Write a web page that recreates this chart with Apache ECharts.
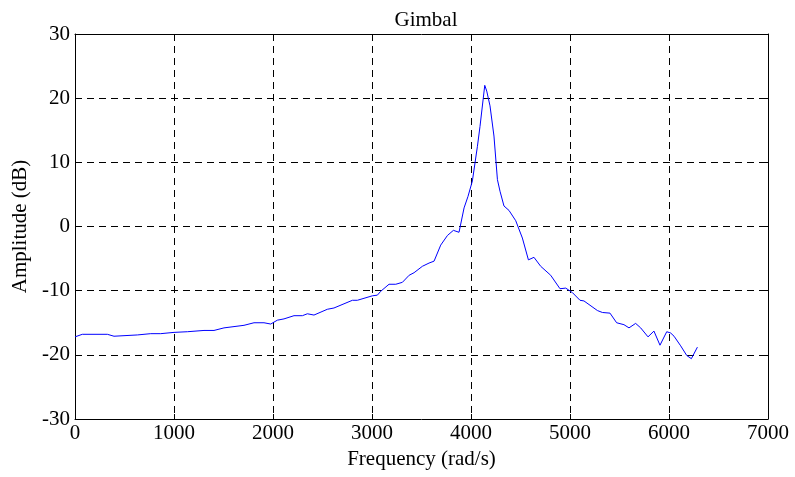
<!DOCTYPE html>
<html>
<head>
<meta charset="utf-8">
<script src="https://cdn.jsdelivr.net/npm/echarts@6/dist/echarts.min.js"></script>
<style>
  html, body { margin: 0; padding: 0; background: #fff; }
  #chart { width: 795px; height: 477px; }
</style>
</head>
<body>
<div id="chart"></div>
<script>
// Gimbal frequency response: frequency (rad/s) and amplitude (dB)
const frequency = [
  0, 74, 327, 394, 630, 765, 866, 1000, 1135, 1303, 1404, 1505, 1707, 1808, 1909, 1977,
  2044, 2111, 2212, 2297, 2347, 2414, 2549, 2616, 2802, 2852, 3004, 3054, 3088, 3172,
  3240, 3307, 3375, 3425, 3509, 3576, 3627, 3694, 3762, 3822, 3879, 3930, 3970, 4014,
  4065, 4091, 4139, 4159, 4192, 4232, 4267, 4293, 4333, 4384, 4452, 4519, 4580, 4636,
  4704, 4805, 4899, 4957, 5024, 5101, 5141, 5277, 5327, 5404, 5471, 5545, 5596, 5663,
  5714, 5788, 5848, 5909, 5977, 6017, 6051, 6118, 6179, 6226, 6287
];
const amplitude = [
  -17.2, -16.8, -16.8, -17.1, -16.9, -16.7, -16.7, -16.5, -16.4, -16.2, -16.2, -15.8, -15.4, -15.0, -15.0, -15.2,
  -14.6, -14.4, -13.9, -13.9, -13.6, -13.8, -12.9, -12.7, -11.5, -11.5, -10.8, -10.7, -10.1, -9.0,
  -9.0, -8.7, -7.6, -7.2, -6.2, -5.7, -5.4, -2.9, -1.4, -0.6, -0.9, 2.9, 4.7, 7.1,
  12.5, 15.6, 22.0, 21.1, 18.8, 14.1, 7.3, 5.5, 3.2, 2.5, 0.9, -1.8, -5.2, -4.8,
  -6.2, -7.6, -9.7, -9.6, -10.3, -11.5, -11.6, -13.1, -13.4, -13.5, -15.0, -15.3, -15.8, -15.1,
  -15.8, -17.2, -16.3, -18.5, -16.4, -16.6, -17.1, -18.6, -20.1, -20.6, -18.8
];
const xTicks = [0, 1000, 2000, 3000, 4000, 5000, 6000, 7000];
const yTicks = [-30, -20, -10, 0, 10, 20, 30];

const font = '"Liberation Serif", "Times New Roman", serif';
const fontSize = 21;
const gridLine = { show: true, lineStyle: { color: '#000', type: [7, 5], width: 1 } };
const boxLine = { show: true, onZero: false, lineStyle: { color: '#000', width: 1 } };
const tick = { show: true, inside: true, length: 5, lineStyle: { color: '#000' } };
const plain = v => String(v);

const chart = echarts.init(document.getElementById('chart'), null, { renderer: 'canvas' });
chart.setOption({
  animation: false,
  backgroundColor: '#fff',
  title: {
    text: 'Gimbal',
    left: 421, top: 5, textAlign: 'center',
    textStyle: { fontFamily: font, fontSize: fontSize, fontWeight: 'normal', color: '#000' }
  },
  grid: { left: 75, right: 27, top: 34, bottom: 58, containLabel: false },
  xAxis: [
    {
      type: 'value', position: 'bottom',
      min: xTicks[0], max: xTicks[xTicks.length - 1], interval: 1000,
      name: 'Frequency (rad/s)', nameLocation: 'middle', nameGap: 27,
      nameTextStyle: { fontFamily: font, fontSize: fontSize, color: '#000' },
      axisLine: boxLine, axisTick: tick,
      axisLabel: { fontFamily: font, fontSize: fontSize, color: '#000', margin: 4, formatter: plain },
      splitLine: gridLine
    },
    {
      type: 'value', position: 'top',
      min: xTicks[0], max: xTicks[xTicks.length - 1], interval: 1000,
      axisLine: boxLine, axisTick: tick, axisLabel: { show: false }, splitLine: { show: false }
    }
  ],
  yAxis: [
    {
      type: 'value', position: 'left',
      min: yTicks[0], max: yTicks[yTicks.length - 1], interval: 10,
      name: 'Amplitude (dB)', nameLocation: 'middle', nameGap: 42, nameRotate: 90,
      nameTextStyle: { fontFamily: font, fontSize: fontSize, color: '#000' },
      axisLine: boxLine, axisTick: tick,
      axisLabel: { fontFamily: font, fontSize: fontSize, color: '#000', margin: 5, formatter: plain },
      splitLine: gridLine
    },
    {
      type: 'value', position: 'right',
      min: yTicks[0], max: yTicks[yTicks.length - 1], interval: 10,
      axisLine: boxLine, axisTick: tick, axisLabel: { show: false }, splitLine: { show: false }
    }
  ],
  series: [{
    type: 'line',
    data: frequency.map((f, i) => [f, amplitude[i]]),
    showSymbol: false,
    lineStyle: { color: '#0000ff', width: 1 },
    z: 5
  }]
});
</script>
</body>
</html>
